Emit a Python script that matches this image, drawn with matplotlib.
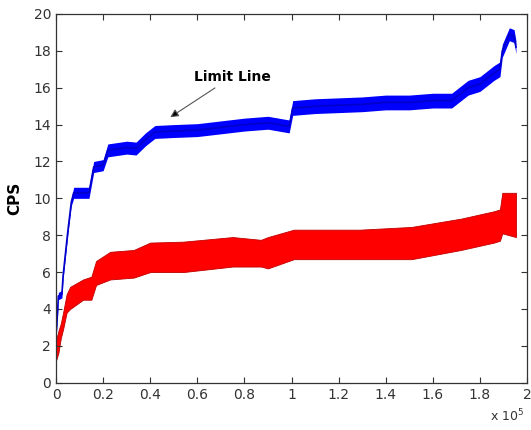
import numpy as np
import matplotlib
matplotlib.use('Agg')
import matplotlib.pyplot as plt

# blue series (limit line): x in samples, centre and half-spread in CPS
blue_x = [0, 500, 1000, 2500, 3000, 4000, 5000, 6500, 7500, 14000, 15000, 16000,
          20000, 22000, 30000, 34000, 38000, 42000, 50000, 60000, 70000, 80000,
          90000, 99000, 100500, 110000, 120000, 130000, 140000, 150000, 160000,
          168000, 175000, 180000, 186000, 188500, 189500, 192500, 194500, 195300]
blue_y = [2.6, 3.5, 4.7, 4.8, 5.8, 7.0, 8.2, 9.8, 10.3, 10.3, 11.0, 11.7,
          11.8, 12.6, 12.75, 12.7, 13.2, 13.6, 13.65, 13.7, 13.85, 14.0,
          14.1, 13.9, 14.9, 15.0, 15.05, 15.1, 15.2, 15.2, 15.3,
          15.3, 16.0, 16.2, 16.8, 17.0, 18.0, 18.9, 18.8, 18.2]
blue_spread = [0.2, 0.2, 0.2, 0.2, 0.2, 0.2, 0.2, 0.2, 0.3, 0.3, 0.3, 0.3,
               0.3, 0.35, 0.35, 0.35, 0.35, 0.35, 0.35, 0.35, 0.35, 0.35,
               0.35, 0.35, 0.4, 0.4, 0.4, 0.4, 0.4, 0.4, 0.4,
               0.4, 0.4, 0.4, 0.4, 0.4, 0.35, 0.35, 0.35, 0.35]

# red series, lower and upper edges of the noisy band
red_x = [0, 1000, 2000, 3000, 4500, 6000, 11500, 15000, 17000, 23000, 33000,
         40000, 54000, 75000, 87000, 90000, 101000, 129000, 151000, 172000,
         186000, 188500, 189500, 195300]
red_lo = [1.2, 1.6, 2.4, 2.9, 3.8, 4.0, 4.5, 4.5, 5.3, 5.6, 5.7,
          6.0, 6.0, 6.3, 6.3, 6.2, 6.7, 6.7, 6.7, 7.2,
          7.6, 7.7, 8.1, 7.9]
red_hi = [2.3, 2.8, 3.2, 3.8, 4.8, 5.2, 5.6, 5.75, 6.6, 7.1, 7.2,
          7.6, 7.65, 7.9, 7.75, 7.9, 8.3, 8.3, 8.45, 8.9,
          9.3, 9.4, 10.3, 10.3]

x_ticks = np.arange(0, 2.01e5, 0.2e5)
x_tick_labels = ['0', '0.2', '0.4', '0.6', '0.8', '1', '1.2', '1.4', '1.6', '1.8', '2']
y_ticks = np.arange(0, 21, 2)

fig = plt.figure(figsize=(5.31, 4.30), dpi=100)
ax = fig.add_axes([0.1055, 0.11, 0.887, 0.8575])

bx = np.array(blue_x)
by = np.array(blue_y)
bs = np.array(blue_spread)
ax.fill_between(bx, by - bs, by + bs, color='#0000ff', lw=0)
ax.plot(bx, by, color='#0000c8', lw=1.2)

ax.fill_between(red_x, red_lo, red_hi, facecolor='#ff0000', edgecolor='#c00000', lw=0.6)

ax.annotate('Limit Line', xy=(0.485e5, 14.4), xytext=(0.585e5, 16.6),
            fontsize=10, fontweight='bold', va='center', ha='left',
            arrowprops=dict(arrowstyle='-|>', color='#555555', lw=0.8,
                            shrinkA=2, shrinkB=0, mutation_scale=12,
                            fc='black'))

ax.set_xlim(0, 2e5)
ax.set_ylim(0, 20)
ax.set_xticks(x_ticks)
ax.set_xticklabels(x_tick_labels)
ax.set_yticks(y_ticks)
ax.tick_params(direction='in', top=True, right=True, length=4, labelsize=10,
               labelcolor='#333333', color='#333333')
for s in ax.spines.values():
    s.set_color('#333333')
    s.set_linewidth(0.9)

ax.set_ylabel('CPS', fontsize=11, fontweight='bold', labelpad=8)
fig.text(0.955, 0.02, r'x 10$^5$', fontsize=9, color='#333333', ha='center')

fig.savefig('out.png', dpi=100)
